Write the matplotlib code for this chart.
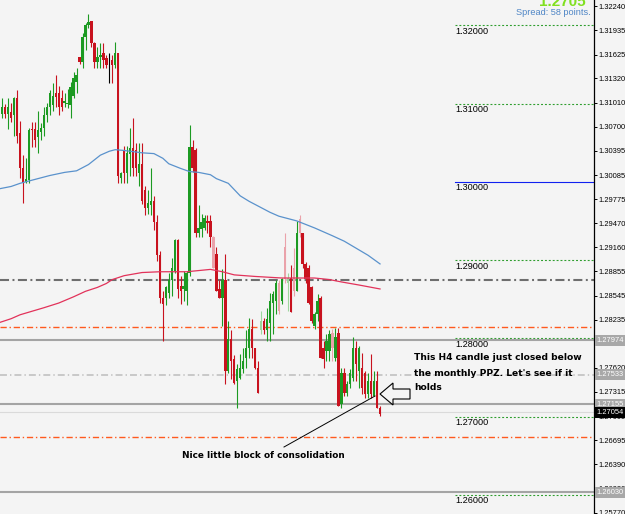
import numpy as np
import matplotlib.pyplot as plt
from matplotlib.patches import Polygon
from matplotlib.lines import Line2D

plt.rcParams["lines.scale_dashes"] = False

# H4 candles, oldest first
opens = [
    1.3087, 1.3095, 1.3087, 1.3089, 1.3085, 1.3107, 1.3062, 1.3018,
    1.3000, 1.3002, 1.3068, 1.3068, 1.3057, 1.3063, 1.3069, 1.3085,
    1.3095, 1.3098, 1.3114, 1.3113, 1.3107, 1.3101, 1.3100, 1.3098, 1.3110,
    1.3127, 1.3159, 1.3153, 1.3185, 1.3200, 1.3205, 1.3177, 1.3153, 1.3159, 1.3164,
    1.3158, 1.3149, 1.3155, 1.3149, 1.3164, 1.3005, 1.3040, 1.3011, 1.3036, 1.3043,
    1.3040, 1.3011, 1.3023, 1.2989, 1.2966, 1.2970, 1.2976, 1.2948, 1.2906, 1.2851,
    1.2851, 1.2858, 1.2874, 1.2886, 1.2925, 1.2867, 1.2863, 1.2861, 1.2884, 1.3044,
    1.3040, 1.2935, 1.2940, 1.2941, 1.2950, 1.2950, 1.2929, 1.2908, 1.2863, 1.2852,
    1.2874, 1.2758, 1.2799, 1.2774, 1.2746, 1.2749, 1.2761, 1.2775, 1.2788, 1.2812,
    1.2788, 1.2762, 1.2810, 1.2822, 1.2810, 1.2820, 1.2845, 1.2848, 1.2870, 1.2848,
    1.2916, 1.2871, 1.2877, 1.2890, 1.2861, 1.2953, 1.2934, 1.2895, 1.2890, 1.2865,
    1.2816, 1.2831, 1.2852, 1.2788, 1.2784, 1.2784,
    1.2807, 1.2775, 1.2807, 1.2716, 1.2756, 1.2730, 1.2742,
    1.2749, 1.2788, 1.2758, 1.2762, 1.2756, 1.2729, 1.2746, 1.2726,
    1.2746, 1.2711,
]
highs = [
    1.3107, 1.3100, 1.3107, 1.3101, 1.3108, 1.3117, 1.3078, 1.3034,
    1.3031, 1.3069, 1.3076, 1.3076, 1.3091, 1.3075, 1.3095, 1.3101,
    1.3117, 1.3126, 1.3136, 1.3123, 1.3117, 1.3113, 1.3119, 1.3127, 1.3140,
    1.3146, 1.3159, 1.3190, 1.3203, 1.3215, 1.3205, 1.3178, 1.3172, 1.3177, 1.3177,
    1.3162, 1.3165, 1.3162, 1.3178, 1.3164, 1.3012, 1.3046, 1.3046, 1.3069, 1.3081,
    1.3050, 1.3049, 1.3049, 1.2995, 1.2989, 1.3017, 1.2982, 1.2957, 1.2912, 1.2861,
    1.2867, 1.2884, 1.2903, 1.2927, 1.2927, 1.2880, 1.2886, 1.2886, 1.3072, 1.3053,
    1.3043, 1.2970, 1.2959, 1.2957, 1.2957, 1.2957, 1.2931, 1.2916, 1.2874, 1.2889,
    1.2908, 1.2822, 1.2810, 1.2778, 1.2767, 1.2780, 1.2788, 1.2810, 1.2826, 1.2825,
    1.2788, 1.2771, 1.2835, 1.2826, 1.2839, 1.2858, 1.2861, 1.2874, 1.2874, 1.2877,
    1.2934, 1.2884, 1.2893, 1.2915, 1.2950, 1.2958, 1.2935, 1.2897, 1.2893, 1.2867,
    1.2833, 1.2857, 1.2854, 1.2797, 1.2806, 1.2810,
    1.2812, 1.2813, 1.2813, 1.2762, 1.2762, 1.2746, 1.2761,
    1.2801, 1.2797, 1.2790, 1.2781, 1.2758, 1.2755, 1.2780, 1.2758,
    1.2758, 1.2714,
]
lows = [
    1.3082, 1.3081, 1.3068, 1.3076, 1.3059, 1.3050, 1.3005, 1.2973,
    1.2998, 1.2999, 1.3044, 1.3044, 1.3037, 1.3053, 1.3059, 1.3076,
    1.3085, 1.3091, 1.3095, 1.3085, 1.3091, 1.3095, 1.3094, 1.3081, 1.3107,
    1.3113, 1.3151, 1.3146, 1.3168, 1.3197, 1.3172, 1.3146, 1.3145, 1.3145, 1.3146,
    1.3145, 1.3126, 1.3126, 1.3146, 1.2999, 1.2999, 1.2999, 1.2998, 1.3008, 1.3008,
    1.3008, 1.2995, 1.2972, 1.2957, 1.2959, 1.2957, 1.2938, 1.2899, 1.2845, 1.2797,
    1.2842, 1.2851, 1.2854, 1.2883, 1.2852, 1.2844, 1.2848, 1.2842, 1.2880, 1.3012,
    1.2929, 1.2929, 1.2929, 1.2938, 1.2935, 1.2916, 1.2890, 1.2861, 1.2852, 1.2816,
    1.2742, 1.2755, 1.2748, 1.2742, 1.2711, 1.2748, 1.2755, 1.2762, 1.2775, 1.2775,
    1.2761, 1.2730, 1.2806, 1.2806, 1.2797, 1.2797, 1.2806, 1.2831, 1.2831, 1.2844,
    1.2871, 1.2835, 1.2833, 1.2854, 1.2861, 1.2929, 1.2890, 1.2870, 1.2844, 1.2820,
    1.2812, 1.2822, 1.2775, 1.2762, 1.2771, 1.2771,
    1.2771, 1.2771, 1.2714, 1.2711, 1.2726, 1.2726, 1.2737,
    1.2746, 1.2746, 1.2737, 1.2729, 1.2724, 1.2724, 1.2724, 1.2726,
    1.2711, 1.2701,
]
closes = [
    1.3095, 1.3087, 1.3095, 1.3082, 1.3107, 1.3059, 1.3018, 1.2999,
    1.3004, 1.3066, 1.3066, 1.3053, 1.3066, 1.3069, 1.3085, 1.3095,
    1.3114, 1.3110, 1.3108, 1.3095, 1.3095, 1.3103, 1.3101, 1.3121, 1.3133,
    1.3136, 1.3153, 1.3185, 1.3200, 1.3204, 1.3177, 1.3153, 1.3159, 1.3162, 1.3155,
    1.3149, 1.3149, 1.3149, 1.3164, 1.3008, 1.3011, 1.3011, 1.3037, 1.3043, 1.3018,
    1.3017, 1.3023, 1.2976, 1.2966, 1.2973, 1.2976, 1.2948, 1.2906, 1.2851, 1.2844,
    1.2865, 1.2874, 1.2890, 1.2925, 1.2863, 1.2861, 1.2867, 1.2884, 1.3044, 1.3017,
    1.2935, 1.2941, 1.2948, 1.2954, 1.2947, 1.2929, 1.2890, 1.2861, 1.2852, 1.2874,
    1.2758, 1.2799, 1.2771, 1.2743, 1.2761, 1.2762, 1.2771, 1.2788, 1.2812, 1.2787,
    1.2762, 1.2730, 1.2822, 1.2810, 1.2825, 1.2848, 1.2857, 1.2870, 1.2835, 1.2876,
    1.2876, 1.2877, 1.2833, 1.2861, 1.2935, 1.2934, 1.2895, 1.2876, 1.2845, 1.2822,
    1.2831, 1.2848, 1.2775, 1.2774, 1.2797, 1.2806,
    1.2787, 1.2801, 1.2714, 1.2756, 1.2730, 1.2742, 1.2756,
    1.2788, 1.2767, 1.2787, 1.2737, 1.2729, 1.2746, 1.2729, 1.2746,
    1.2711, 1.2703,
]
# candles that show up washed out in the screenshot
faded = [71, 87, 93, 95, 96, 98, 100, 111]

# moving averages (bar index, price)
blue_idx = [-1, 3, 6, 11, 16, 21, 25, 29, 33, 36, 38, 41, 47, 51, 54, 56, 60, 63, 66,
            70, 72, 76, 78, 80, 83, 87, 90, 93, 99, 105, 111, 115, 119, 123, 127]
blue_ma = [1.2991, 1.2994, 1.2998, 1.3003, 1.3008, 1.3012, 1.3014, 1.3022, 1.3034, 1.3039,
           1.3041, 1.3040, 1.3037, 1.3036, 1.3030, 1.3023, 1.3017, 1.3013, 1.3012, 1.3009,
           1.3004, 1.2998, 1.2990, 1.2982, 1.2975, 1.2967, 1.2961, 1.2956, 1.2950, 1.2941,
           1.2931, 1.2924, 1.2915, 1.2906, 1.2895]
red_idx = [-1, 3, 6, 14, 19, 24, 28, 32, 35, 37, 41, 47, 53, 62, 70, 74, 78, 85, 94,
           105, 110, 114, 120, 127]
red_ma = [1.2820, 1.2825, 1.2830, 1.2839, 1.2845, 1.2853, 1.2860, 1.2865, 1.2870, 1.2875,
          1.2880, 1.2884, 1.2885, 1.2885, 1.2888, 1.2885, 1.2881, 1.2879, 1.2877, 1.2877,
          1.2875, 1.2872, 1.2868, 1.2863]

round_levels = [1.32, 1.31, 1.30, 1.29, 1.28, 1.27, 1.26]
ppz_level = 1.2874
orange_levels = [1.2814, 1.26735]
lightgray_level = 1.27533
gray_levels = [1.27974, 1.27155, 1.26030]
bid = 1.27054
boxed_prices = [1.27974, 1.27533, 1.27155, 1.26030]
yticks = [1.32240, 1.31935, 1.31625, 1.31320, 1.31010, 1.30700, 1.30395, 1.30085,
          1.29775, 1.29470, 1.29160, 1.28855, 1.28545, 1.28235, 1.27930, 1.27620,
          1.27315, 1.27005, 1.26695, 1.26390, 1.26080, 1.25770]

BG = "#f4f4f4"
W, H = 625, 514
AX_W = 594
step = 2.975   # pixels per bar
first = 2.2    # pixel x of the first bar

fig = plt.figure(figsize=(W / 100, H / 100), dpi=100, facecolor=BG)
ax = fig.add_axes([0, 0, AX_W / W, 1])
ax.set_facecolor(BG)
ax.set_xlim(-first / step, (AX_W - first) / step)
ax.set_ylim(1.25754, 1.32323)


def px(x, y):
    return x / AX_W, 1 - y / H


o = np.array(opens)
h = np.array(highs)
l = np.array(lows)
c = np.array(closes)
idx = np.arange(len(o))

cols = []
for i in idx:
    fd = i in faded
    if c[i] > o[i]:
        cols.append("#9ed69e" if fd else "#1c9a22")
    elif c[i] < o[i]:
        cols.append("#eaa2aa" if fd else "#c8121e")
    else:
        cols.append("#000000")

ax.vlines(idx, l, h, colors=cols, lw=0.8, zorder=3)
bot = np.minimum(o, c)
hgt = np.maximum(np.abs(c - o), 0.00008)
ax.bar(idx, hgt, bottom=bot, width=0.8, color=cols, lw=0, zorder=3)

ax.plot(blue_idx, blue_ma, color="#5a92cc", lw=0.9, zorder=4)
ax.plot(red_idx, red_ma, color="#e2325a", lw=0.9, zorder=4)

# round number levels on the right side
x0 = 455 / AX_W
ytr = ax.get_yaxis_transform()
for lv in round_levels:
    if lv == 1.30:
        ax.axhline(lv, xmin=x0, color="#1020f0", lw=0.8, zorder=2)
    else:
        ax.axhline(lv, xmin=x0, color="#2f9e2f", lw=0.8, dashes=(1.4, 1.4), zorder=2)
    ax.text(x0, lv - 0.0002, f"{lv:.5f}", transform=ytr, fontsize=6.6,
            family="Liberation Sans", va="top", ha="left", zorder=5)

ax.axhline(ppz_level, color="#6e6e6e", lw=1.5, dashes=(6.5, 2.5, 1.4, 2.5), zorder=2)
for lv in orange_levels:
    ax.axhline(lv, color="#ff5a1e", lw=1.0, dashes=(4.5, 2.0, 1.0, 2.0), zorder=2)
ax.axhline(lightgray_level, color="#bdbdbd", lw=1.1, dashes=(5.0, 2.2, 1.0, 2.2), zorder=2)
for lv in gray_levels:
    ax.axhline(lv, color="#a4a4a4", lw=1.5, zorder=2)
ax.axhline(bid, color="#dadada", lw=0.8, zorder=2)

# right price scale
for s in ["left", "top", "bottom"]:
    ax.spines[s].set_visible(False)
ax.spines["right"].set_color("black")
ax.spines["right"].set_linewidth(0.9)
ax.set_xticks([])
ax.yaxis.tick_right()
ax.set_yticks(yticks)
ax.set_yticklabels([f"{t:.5f}" for t in yticks], fontsize=5.4, family="Liberation Sans")
ax.tick_params(axis="y", length=2, width=0.7, pad=1.5, colors="black")

for p in boxed_prices:
    ax.text(1.004, p, f"{p:.5f}", transform=ytr, fontsize=5.4, family="Liberation Sans",
            color="white", va="center", ha="left",
            bbox=dict(boxstyle="square,pad=0.25", fc="#a8a8a8", ec="none"))
ax.text(1.004, bid, f"{bid:.5f}", transform=ytr, fontsize=5.4, family="Liberation Sans",
        color="white", va="center", ha="left",
        bbox=dict(boxstyle="square,pad=0.25", fc="black", ec="none"))

# top-right info
fig.text(586 / W, 1 - 5.5 / H, "1.2705", fontsize=11, weight="bold",
         family="Liberation Sans", color="#80e020", ha="right", va="baseline")
fig.text(591 / W, 1 - 12.5 / H, "Spread: 58 points.", fontsize=6.6,
         family="Liberation Sans", color="#4f86c6", ha="right", va="center")

# annotations
note = ["This H4 candle just closed below", "the monthly PPZ. Let's see if it", "holds"]
for k, line in enumerate(note):
    ax.text(*px(414, 358 + 15 * k), line, transform=ax.transAxes, fontsize=6.6,
            weight="bold", family="DejaVu Sans", va="center", ha="left", zorder=6)
ax.text(*px(182, 455), "Nice little block of consolidation", transform=ax.transAxes,
        fontsize=6.4, weight="bold", family="DejaVu Sans", va="center", ha="left", zorder=6)

x1, y1 = px(284, 447)
x2, y2 = px(375, 396)
ax.add_line(Line2D([x1, x2], [y1, y2], transform=ax.transAxes, color="black", lw=0.7, zorder=6))

arrow = [px(380, 394), px(393, 383), px(393, 389), px(410, 389),
         px(410, 399), px(393, 399), px(393, 405)]
ax.add_patch(Polygon(arrow, closed=True, transform=ax.transAxes, fc=BG, ec="black",
                     lw=0.8, zorder=6))

fig.savefig("out.png", dpi=100, facecolor=BG)
